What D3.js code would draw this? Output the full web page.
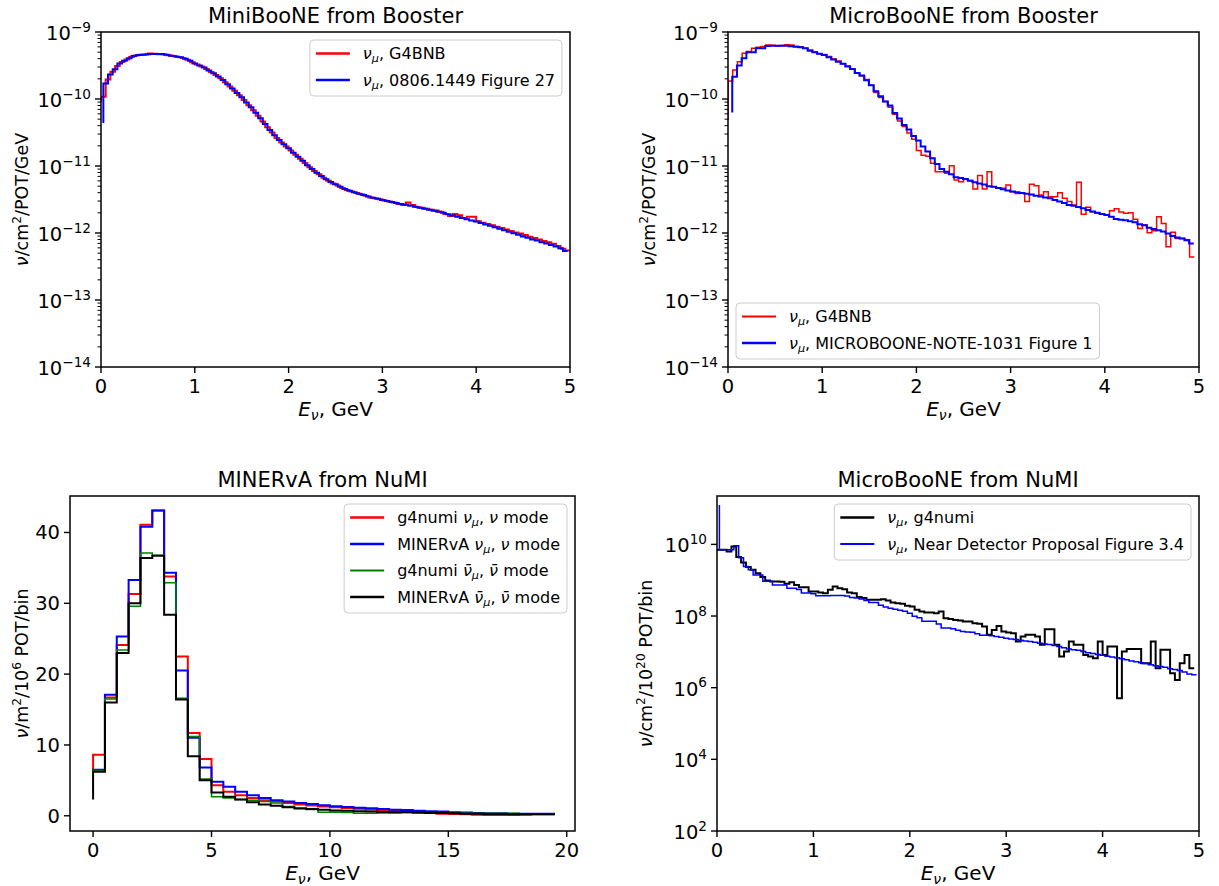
<!DOCTYPE html>
<html>
<head>
<meta charset="utf-8">
<script src="https://cdn.jsdelivr.net/npm/d3@7"></script>
<style>
  body { margin: 0; background: #fff; }
  text { font-family: "DejaVu Sans", sans-serif; fill: #000; }
</style>
</head>
<body>
<svg id="fig" width="1219" height="886"></svg>
<script>
// ---- MiniBooNE from Booster (nu/cm2/POT/GeV), first value is the start of the step line
const miniG4bnb = [9.0e-11,
  1.08e-10, 1.95e-10, 2.55e-10, 3.10e-10, 3.58e-10, 3.90e-10, 4.22e-10, 4.45e-10, 4.57e-10, 4.63e-10,
  4.78e-10, 4.72e-10, 4.66e-10, 4.60e-10, 4.50e-10, 4.38e-10, 4.25e-10, 4.08e-10, 3.85e-10, 3.55e-10,
  3.28e-10, 3.05e-10, 2.80e-10, 2.54e-10, 2.28e-10, 2.04e-10, 1.78e-10, 1.54e-10, 1.33e-10, 1.14e-10,
  9.7e-11, 8.1e-11, 6.8e-11, 5.6e-11, 4.6e-11, 3.8e-11, 3.15e-11, 2.62e-11, 2.25e-11, 1.96e-11,
  1.70e-11, 1.47e-11, 1.28e-11, 1.11e-11, 9.6e-12, 8.4e-12, 7.5e-12, 6.7e-12, 6.0e-12, 5.5e-12,
  5.1e-12, 4.7e-12, 4.4e-12, 4.15e-12, 3.95e-12, 3.78e-12, 3.6e-12, 3.4e-12, 3.3e-12, 3.2e-12,
  3.06e-12, 2.95e-12, 2.85e-12, 2.72e-12, 2.62e-12, 2.85e-12, 2.62e-12, 2.45e-12, 2.38e-12, 2.30e-12,
  2.22e-12, 2.16e-12, 2.08e-12, 1.92e-12, 1.80e-12, 1.92e-12, 1.84e-12, 1.68e-12, 1.75e-12, 1.75e-12,
  1.50e-12, 1.42e-12, 1.36e-12, 1.30e-12, 1.24e-12, 1.19e-12, 1.13e-12, 1.07e-12, 1.02e-12, 9.8e-13,
  9.3e-13, 8.8e-13, 8.4e-13, 8.0e-13, 7.6e-13, 7.3e-13, 6.9e-13, 6.4e-13, 5.8e-13, 5.5e-13];
const miniFig27 = [4.4e-11,
  1.71e-10, 2.33e-10, 2.77e-10, 3.40e-10, 3.73e-10, 4.05e-10, 4.38e-10, 4.52e-10, 4.59e-10, 4.65e-10,
  4.70e-10, 4.70e-10, 4.68e-10, 4.57e-10, 4.44e-10, 4.32e-10, 4.19e-10, 3.98e-10, 3.72e-10, 3.40e-10,
  3.16e-10, 2.94e-10, 2.66e-10, 2.42e-10, 2.16e-10, 1.92e-10, 1.66e-10, 1.44e-10, 1.23e-10, 1.06e-10,
  8.9e-11, 7.5e-11, 6.24e-11, 5.14e-11, 4.22e-11, 3.44e-11, 2.88e-11, 2.44e-11, 2.11e-11, 1.84e-11,
  1.58e-11, 1.38e-11, 1.20e-11, 1.03e-11, 9.0e-12, 7.95e-12, 7.08e-12, 6.32e-12, 5.75e-12, 5.32e-12,
  4.9e-12, 4.54e-12, 4.27e-12, 4.05e-12, 3.86e-12, 3.69e-12, 3.52e-12, 3.37e-12, 3.24e-12, 3.11e-12,
  3.01e-12, 2.90e-12, 2.81e-12, 2.71e-12, 2.63e-12, 2.55e-12, 2.47e-12, 2.39e-12, 2.31e-12, 2.23e-12,
  2.15e-12, 2.08e-12, 2.0e-12, 1.91e-12, 1.83e-12, 1.75e-12, 1.68e-12, 1.61e-12, 1.54e-12, 1.48e-12,
  1.41e-12, 1.34e-12, 1.28e-12, 1.22e-12, 1.16e-12, 1.10e-12, 1.04e-12, 9.9e-13, 9.4e-13, 8.9e-13,
  8.5e-13, 8.0e-13, 7.7e-13, 7.3e-13, 7.0e-13, 6.6e-13, 6.3e-13, 5.9e-13, 5.4e-13];

// ---- MicroBooNE from Booster
const uBooneG4bnb = [4.8e-11,
  1.86e-10, 2.71e-10, 3.6e-10, 4.8e-10, 5.1e-10, 5.7e-10, 5.9e-10, 6.1e-10, 6.4e-10, 6.35e-10,
  6.2e-10, 6.3e-10, 6.45e-10, 6.4e-10, 6.1e-10, 6.0e-10, 5.7e-10, 5.4e-10, 5.05e-10, 4.75e-10,
  4.6e-10, 4.3e-10, 3.95e-10, 3.7e-10, 3.35e-10, 3.1e-10, 2.8e-10, 2.45e-10, 2.2e-10, 1.95e-10,
  1.6e-10, 1.25e-10, 1.05e-10, 9.2e-11, 7.5e-11, 5.9e-11, 4.7e-11, 3.9e-11, 3.1e-11, 2.5e-11,
  1.7e-11, 1.45e-11, 1.4e-11, 1.1e-11, 8.2e-12, 8.2e-12, 7.8e-12, 1.01e-11, 6.2e-12, 5.8e-12,
  6.4e-12, 6.1e-12, 4.55e-12, 7.2e-12, 4.54e-12, 8.2e-12, 4.9e-12, 4.64e-12, 4.64e-12, 5.2e-12,
  4.14e-12, 3.9e-12, 3.91e-12, 2.94e-12, 5.32e-12, 5.08e-12, 3.69e-12, 4.14e-12, 3.48e-12, 3.48e-12,
  4.0e-12, 3.29e-12, 2.94e-12, 2.62e-12, 5.7e-12, 1.9e-12, 2.42e-12, 2.08e-12, 1.97e-12, 1.9e-12,
  1.86e-12, 2.15e-12, 2.31e-12, 2.05e-12, 1.97e-12, 2.01e-12, 1.6e-12, 1.17e-12, 1.32e-12, 1.01e-12,
  1.08e-12, 1.75e-12, 1.39e-12, 6.25e-13, 1.03e-12, 8.3e-13, 8.3e-13, 7.9e-13, 4.4e-13];
const uBooneNote1031 = [6.3e-11,
  2.15e-10, 3.15e-10, 4.05e-10, 4.97e-10, 4.97e-10, 5.70e-10, 5.70e-10, 6.20e-10, 6.25e-10, 6.25e-10,
  6.25e-10, 6.25e-10, 6.15e-10, 6.00e-10, 5.90e-10, 5.70e-10, 5.25e-10, 5.00e-10, 4.75e-10, 4.54e-10,
  4.20e-10, 3.90e-10, 3.60e-10, 3.35e-10, 3.05e-10, 2.80e-10, 2.45e-10, 2.25e-10, 1.90e-10, 1.60e-10,
  1.30e-10, 1.10e-10, 9.2e-11, 8.0e-11, 6.2e-11, 5.1e-11, 4.1e-11, 3.5e-11, 2.8e-11, 2.4e-11,
  1.95e-11, 1.65e-11, 1.3e-11, 1.07e-11, 9.0e-12, 8.2e-12, 7.5e-12, 6.8e-12, 6.6e-12, 6.4e-12,
  6.0e-12, 5.7e-12, 5.5e-12, 5.3e-12, 5.0e-12, 4.9e-12, 4.7e-12, 4.5e-12, 4.3e-12, 4.15e-12,
  4.05e-12, 3.95e-12, 3.85e-12, 3.75e-12, 3.6e-12, 3.5e-12, 3.4e-12, 3.3e-12, 3.1e-12, 2.95e-12,
  2.8e-12, 2.62e-12, 2.55e-12, 2.45e-12, 2.35e-12, 2.2e-12, 2.1e-12, 2.0e-12, 1.92e-12, 1.85e-12,
  1.75e-12, 1.62e-12, 1.58e-12, 1.55e-12, 1.5e-12, 1.45e-12, 1.35e-12, 1.3e-12, 1.2e-12, 1.15e-12,
  1.1e-12, 1.05e-12, 9.8e-13, 9.0e-13, 8.6e-13, 8.3e-13, 7.8e-13, 7.0e-13];

// ---- MINERvA from NuMI (nu/m2/1e6 POT/bin), 0.5 GeV bins
const minervaG4numiNu = [6.4,
  8.6, 16.7, 24.1, 31.3, 41.1, 43.1, 33.8, 22.5, 11.7, 8.0,
  4.3, 3.4, 2.9, 2.5, 2.2, 2.0, 1.8, 1.6, 1.45, 1.3,
  1.2, 1.1, 1.0, 0.9, 0.8, 0.7, 0.6, 0.5, 0.4, 0.3,
  0.25, 0.2, 0.15, 0.1, 0.1, 0.1, 0.15, 0.2, 0.2];
const minervaDataNu = [6.4,
  6.5, 17.1, 25.3, 33.3, 40.8, 43.1, 34.3, 20.5, 11.0, 6.8,
  4.8, 4.1, 3.4, 2.9, 2.5, 2.2, 2.0, 1.8, 1.65, 1.5,
  1.35, 1.25, 1.15, 1.05, 0.95, 0.85, 0.8, 0.7, 0.65, 0.6,
  0.5, 0.45, 0.4, 0.35, 0.35, 0.3, 0.3, 0.3, 0.3];
const minervaG4numiNubar = [6.3,
  6.4, 16.5, 23.4, 29.6, 37.1, 36.8, 32.9, 16.6, 11.2, 5.2,
  2.7, 2.5, 2.3, 2.2, 2.0, 1.8, 1.3, 1.0, 0.9, 0.5,
  0.5, 0.45, 0.35, 0.35, 0.4, 0.4, 0.45, 0.4, 0.4, 0.4,
  0.35, 0.35, 0.35, 0.35, 0.35, 0.35, 0.3, 0.3, 0.3];
const minervaDataNubar = [2.3,
  6.2, 16.0, 23.0, 30.0, 36.4, 36.7, 28.4, 16.4, 8.4, 5.0,
  3.3, 2.7, 2.3, 1.9, 1.6, 1.4, 1.2, 1.05, 0.95, 0.85,
  0.75, 0.7, 0.65, 0.6, 0.55, 0.5, 0.5, 0.45, 0.4, 0.4,
  0.35, 0.3, 0.3, 0.25, 0.25, 0.2, 0.2, 0.2, 0.2];

// ---- MicroBooNE from NuMI (nu/cm2/1e20 POT/bin)
const numiG4numi = [7.07e9,
  7.07e9, 7.07e9, 6.35e9, 8.75e9, 4.41e9, 3.13e9, 2.32e9, 1.95e9, 1.57e9, 1.22e9,
  9.8e8, 9.2e8, 9.2e8, 9.0e8, 7.9e8, 8.8e8, 7.4e8, 6.4e8, 6.4e8, 4.8e8,
  4.8e8, 4.5e8, 4.35e8, 5.4e8, 6.7e8, 6.0e8, 5.6e8, 4.5e8, 4.35e8, 3.37e8,
  3.16e8, 2.84e8, 2.84e8, 2.84e8, 2.96e8, 2.72e8, 2.39e8, 2.29e8, 2.19e8, 1.93e8,
  1.85e8, 1.49e8, 1.34e8, 1.26e8, 1.26e8, 1.2e8, 1.34e8, 8.7e7, 8.2e7, 7.8e7,
  7.5e7, 7.0e7, 7.0e7, 6.3e7, 6.05e7, 5.1e7, 2.99e7, 4.1e7, 5.3e7, 3.7e7,
  3.47e7, 3.3e7, 1.94e7, 2.68e7, 2.99e7, 2.99e7, 2.68e7, 1.57e7, 4.3e7, 4.3e7,
  1.57e7, 7.4e6, 1.02e7, 1.94e7, 1.57e7, 1.57e7, 8.2e6, 7.4e6, 6.65e6, 1.94e7,
  8.2e6, 1.41e7, 1.41e7, 5.1e5, 1.02e7, 1.21e7, 1.21e7, 1.21e7, 4.8e6, 4.8e6,
  1.94e7, 3.5e6, 1.14e7, 1.14e7, 2.54e6, 1.65e6, 4.8e6, 8.2e6, 3.5e6];
const numiNdProposal = [1.26e11,
  7.1e9, 7.1e9, 7.1e9, 9.1e9, 4.2e9, 2.4e9, 1.95e9, 1.4e9, 1.4e9, 9.3e8,
  9.3e8, 7.4e8, 7.4e8, 7.4e8, 6.0e8, 6.0e8, 5.5e8, 4.4e8, 4.4e8, 4.2e8,
  3.7e8, 3.7e8, 3.7e8, 3.75e8, 3.75e8, 3.75e8, 3.6e8, 3.3e8, 3.2e8, 3.0e8,
  2.7e8, 2.4e8, 2.4e8, 2.0e8, 1.8e8, 1.66e8, 1.55e8, 1.45e8, 1.35e8, 1.2e8,
  9.8e7, 9.0e7, 7.1e7, 7.1e7, 7.1e7, 6.0e7, 4.6e7, 4.6e7, 4.4e7, 4.0e7,
  3.7e7, 3.6e7, 3.5e7, 3.2e7, 2.9e7, 2.9e7, 2.8e7, 2.7e7, 2.55e7, 2.4e7,
  2.3e7, 2.2e7, 2.1e7, 2.0e7, 1.95e7, 1.85e7, 1.75e7, 1.65e7, 1.6e7, 1.5e7,
  1.4e7, 1.3e7, 1.2e7, 1.15e7, 1.1e7, 1.02e7, 9.5e6, 9.0e6, 8.5e6, 8.0e6,
  7.6e6, 7.2e6, 6.8e6, 6.4e6, 6.0e6, 5.6e6, 5.3e6, 5.0e6, 4.7e6, 4.4e6,
  4.1e6, 3.9e6, 3.7e6, 3.4e6, 3.2e6, 3.0e6, 2.75e6, 2.4e6, 2.3e6];

// bin edges of each histogram (GeV)
const edges = (start, width, n) => d3.range(n).map(i => +(start + width * i).toFixed(4));

const TICK_FS = 19.5, LEG_FS = 16, XLAB_FS = 20, YLAB_FS = 17.5, TITLE_FS = 21;
const svg = d3.select('#fig');

// text with math-like parts: [text, mode] where mode is '', 'i', 'isub', 'sup'
function rich(sel, parts, size) {
  let shift = 0;
  parts.forEach(([t, m]) => {
    const small = m === 'sup' || m === 'isub';
    const target = m === 'sup' ? -0.42 * size : m === 'isub' ? 0.2 * size : 0;
    sel.append('tspan')
      .attr('dy', target - shift)
      .attr('font-size', small ? size * 0.7 : size)
      .attr('font-style', m === 'i' || m === 'isub' ? 'italic' : null)
      .text(t);
    shift = target;
  });
  return sel;
}

const nuMu = [['ν', 'i'], ['μ', 'isub']];
const nuBarMu = [['ν\u0304', 'i'], ['μ', 'isub']];
const xLabel = [['E', 'i'], ['ν', 'isub'], [', GeV', '']];

function drawPanel(p) {
  const g = svg.append('g');
  const x = d3.scaleLinear().domain(p.xDomain).range([p.left, p.left + p.width]);
  const y = (p.log ? d3.scaleLog() : d3.scaleLinear())
    .domain(p.yDomain).range([p.top + p.height, p.top]);

  svg.append('clipPath').attr('id', 'clip-' + p.id)
    .append('rect').attr('x', p.left).attr('y', p.top)
    .attr('width', p.width).attr('height', p.height);

  const line = d3.line().x(d => x(d[0])).y(d => y(d[1])).curve(d3.curveStepBefore);
  p.series.forEach(s => {
    g.append('path')
      .attr('d', line(s.x.map((e, i) => [e, s.y[i]])))
      .attr('fill', 'none')
      .attr('stroke', s.color)
      .attr('stroke-width', s.lw)
      .attr('clip-path', `url(#clip-${p.id})`);
  });

  const bottom = p.top + p.height;
  // x ticks
  p.xTicks.forEach(t => {
    g.append('line').attr('x1', x(t)).attr('x2', x(t))
      .attr('y1', bottom).attr('y2', bottom + 6)
      .attr('stroke', '#000').attr('stroke-width', 1.4);
    g.append('text').attr('x', x(t)).attr('y', bottom + 25.5)
      .attr('text-anchor', 'middle').attr('font-size', TICK_FS).text(t);
  });
  // minor y ticks (log panels)
  (p.minor || []).forEach(t => {
    g.append('line').attr('x1', p.left - 3.5).attr('x2', p.left)
      .attr('y1', y(t)).attr('y2', y(t))
      .attr('stroke', '#000').attr('stroke-width', 1);
  });
  // major y ticks
  p.yTicks.forEach(t => {
    g.append('line').attr('x1', p.left - 6).attr('x2', p.left)
      .attr('y1', y(t)).attr('y2', y(t))
      .attr('stroke', '#000').attr('stroke-width', 1.4);
    const lab = g.append('text').attr('x', p.left - 10)
      .attr('text-anchor', 'end').attr('font-size', TICK_FS);
    if (p.log) {
      lab.attr('y', y(t) + 8);
      rich(lab, [['10', ''], [String(Math.round(Math.log10(t))).replace('-', '−'), 'sup']], TICK_FS);
    } else {
      lab.attr('y', y(t) + 7).text(t);
    }
  });

  // frame
  g.append('rect').attr('x', p.left).attr('y', p.top)
    .attr('width', p.width).attr('height', p.height)
    .attr('fill', 'none').attr('stroke', '#000').attr('stroke-width', 1.5);

  // title and axis labels
  g.append('text').attr('x', p.left + p.width / 2).attr('y', p.top - 9)
    .attr('text-anchor', 'middle').attr('font-size', TITLE_FS).text(p.title);
  rich(g.append('text').attr('x', p.left + p.width / 2).attr('y', bottom + 49)
    .attr('text-anchor', 'middle').attr('font-size', XLAB_FS), xLabel, XLAB_FS);
  rich(g.append('text')
    .attr('transform', `translate(${p.ylabelX},${p.top + p.height / 2}) rotate(-90)`)
    .attr('text-anchor', 'middle').attr('font-size', YLAB_FS), p.ylabel, YLAB_FS);

  // legend
  const lg = g.append('g');
  const frame = lg.append('rect');
  p.series.forEach((s, i) => {
    const row = lg.append('g').attr('transform', `translate(0,${i * 26.5})`);
    row.append('line').attr('x1', 0).attr('x2', 34).attr('y1', 0).attr('y2', 0)
      .attr('stroke', s.color).attr('stroke-width', s.lw + 0.5);
    rich(row.append('text').attr('x', 47).attr('y', 5.5).attr('font-size', LEG_FS), s.label, LEG_FS);
  });
  const bb = lg.node().getBBox();
  const w = bb.width + 13, h = p.series.length * 26.5 + 3;
  frame.attr('x', -6).attr('y', -13.5).attr('width', w).attr('height', h)
    .attr('rx', 4).attr('fill', '#fff').attr('fill-opacity', 0.8)
    .attr('stroke', '#cccccc').attr('stroke-width', 1);
  let lx, ly;
  if (p.legendPos === 'lower left') {
    lx = p.left + 8 + 6; ly = bottom - 8 - h + 13.5;
  } else {
    lx = p.left + p.width - 8 - w + 6; ly = p.top + 8 + 13.5;
  }
  lg.attr('transform', `translate(${lx},${ly})`);
}

const logMinor = (lo, hi) => d3.range(lo, hi).flatMap(d => d3.range(2, 10).map(m => m * Math.pow(10, d)));
const booTicks = [1e-14, 1e-13, 1e-12, 1e-11, 1e-10, 1e-9];

drawPanel({
  id: 'mini', left: 101, top: 32, width: 469, height: 335,
  xDomain: [0, 5], log: true, yDomain: [1e-14, 1e-9],
  xTicks: [0, 1, 2, 3, 4, 5], yTicks: booTicks, minor: logMinor(-14, -9),
  title: 'MiniBooNE from Booster', ylabelX: 28,
  ylabel: [['ν', 'i'], ['/cm', ''], ['2', 'sup'], ['/POT/GeV', '']],
  legendPos: 'upper right',
  series: [
    { x: edges(0, 0.05, 101), y: miniG4bnb, color: '#ff0000', lw: 2, label: [...nuMu, [', G4BNB', '']] },
    { x: edges(0.025, 0.05, 100), y: miniFig27, color: '#0000ff', lw: 2, label: [...nuMu, [', 0806.1449 Figure 27', '']] }
  ]
});

drawPanel({
  id: 'uboo', left: 728, top: 32, width: 471, height: 335,
  xDomain: [0, 5], log: true, yDomain: [1e-14, 1e-9],
  xTicks: [0, 1, 2, 3, 4, 5], yTicks: booTicks, minor: logMinor(-14, -9),
  title: 'MicroBooNE from Booster', ylabelX: 655,
  ylabel: [['ν', 'i'], ['/cm', ''], ['2', 'sup'], ['/POT/GeV', '']],
  legendPos: 'lower left',
  series: [
    { x: edges(0, 0.05, 100), y: uBooneG4bnb, color: '#ff0000', lw: 1.5, label: [...nuMu, [', G4BNB', '']] },
    { x: edges(0.045, 0.05, 99), y: uBooneNote1031, color: '#0000ff', lw: 2, label: [...nuMu, [', MICROBOONE-NOTE-1031 Figure 1', '']] }
  ]
});

drawPanel({
  id: 'minerva', left: 70, top: 496, width: 505, height: 335,
  xDomain: [-0.975, 20.35], log: false, yDomain: [-2.15, 45.15],
  xTicks: [0, 5, 10, 15, 20], yTicks: [0, 10, 20, 30, 40],
  title: 'MINERvA from NuMI', ylabelX: 28,
  ylabel: [['ν', 'i'], ['/m', ''], ['2', 'sup'], ['/10', ''], ['6', 'sup'], [' POT/bin', '']],
  legendPos: 'upper right',
  series: [
    { x: edges(0, 0.5, 40), y: minervaG4numiNu, color: '#ff0000', lw: 2, label: [['g4numi ', ''], ...nuMu, [', ', ''], ['ν', 'i'], [' mode', '']] },
    { x: edges(0, 0.5, 40), y: minervaDataNu, color: '#0000ff', lw: 2, label: [['MINERvA ', ''], ...nuMu, [', ', ''], ['ν', 'i'], [' mode', '']] },
    { x: edges(0, 0.5, 40), y: minervaG4numiNubar, color: '#008000', lw: 1.5, label: [['g4numi ', ''], ...nuBarMu, [', ', ''], ['ν\u0304', 'i'], [' mode', '']] },
    { x: edges(0, 0.5, 40), y: minervaDataNubar, color: '#000000', lw: 2, label: [['MINERvA ', ''], ...nuBarMu, [', ', ''], ['ν\u0304', 'i'], [' mode', '']] }
  ]
});

drawPanel({
  id: 'unumi', left: 717, top: 496, width: 482, height: 335,
  xDomain: [0, 5], log: true, yDomain: [1e2, Math.pow(10, 11.35)],
  xTicks: [0, 1, 2, 3, 4, 5], yTicks: [1e2, 1e4, 1e6, 1e8, 1e10],
  title: 'MicroBooNE from NuMI', ylabelX: 652,
  ylabel: [['ν', 'i'], ['/cm', ''], ['2', 'sup'], ['/10', ''], ['20', 'sup'], [' POT/bin', '']],
  legendPos: 'upper right',
  series: [
    { x: edges(0, 0.05, 100), y: numiG4numi, color: '#000000', lw: 2, label: [...nuMu, [', g4numi', '']] },
    { x: edges(0.025, 0.05, 100), y: numiNdProposal, color: '#0000ff', lw: 1.5, label: [...nuMu, [', Near Detector Proposal Figure 3.4', '']] }
  ]
});
</script>
</body>
</html>
